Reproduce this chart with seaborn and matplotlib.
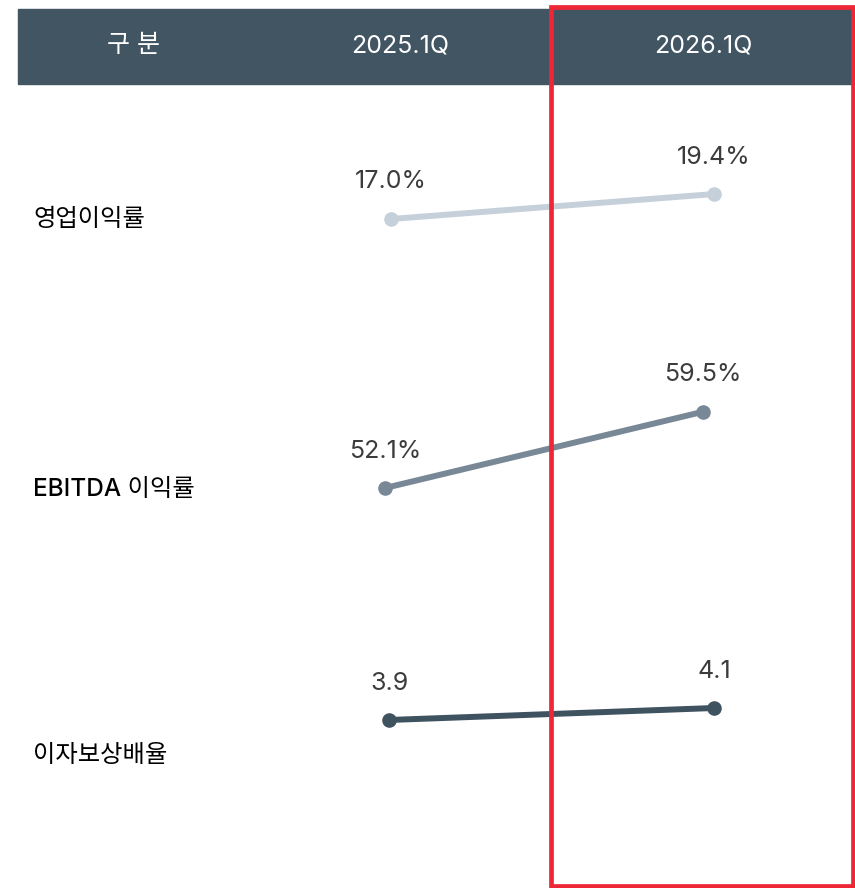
import seaborn as sns
import matplotlib.pyplot as plt
import pandas as pd
from matplotlib.patches import Rectangle

sns.set_theme(style="white")
plt.rcParams["font.family"] = ["Inter", "Noto Sans CJK KR", "DejaVu Sans"]

# data
periods = ["2025.1Q", "2026.1Q"]
metrics = ["영업이익률", "EBITDA 이익률", "이자보상배율"]
op_margin = [17.0, 19.4]
ebitda_margin = [52.1, 59.5]
interest_cover = [3.9, 4.1]
value_labels = [["17.0%", "19.4%"], ["52.1%", "59.5%"], ["3.9", "4.1"]]
header_first = "구 분"

W, H = 855, 888
fig = plt.figure(figsize=(W / 100, H / 100), dpi=100)


def fx(px):
    return px / W


def fy(py):
    return 1 - py / H


# header bar
fig.patches.append(Rectangle((fx(18), fy(84)), fx(855) - fx(18), fy(9) - fy(84),
                             transform=fig.transFigure, color="#425563", zorder=1))
fig.text(fx(133), fy(46), header_first, color="white", fontsize=18, ha="center", va="center")
fig.text(fx(400), fy(46), periods[0], color="white", fontsize=18, ha="center", va="center")
fig.text(fx(703), fy(46), periods[1], color="white", fontsize=18, ha="center", va="center")

series = [op_margin, ebitda_margin, interest_cover]
colors = ["#c5d0da", "#788896", "#3f5260"]
# per row: band top/bottom px, x px of first/second point, y px of first value, px per unit
rows = [
    (100, 340, 391, 714, 219, 10.4),
    (360, 600, 385, 703, 488, 10.3),
    (620, 860, 389, 714, 720, 60.0),
]
label_y = [219, 489, 755]

for i, (vals, color, row) in enumerate(zip(series, colors, rows)):
    top, bot, x0p, x1p, y0p, s = row
    ax = fig.add_axes([0, fy(bot), 1, (bot - top) / H])
    ax.set_axis_off()
    ax.patch.set_alpha(0)
    df = pd.DataFrame({"pos": [0, 1], "value": vals})
    sns.lineplot(data=df, x="pos", y="value", ax=ax, color=color, linewidth=4.3,
                 marker="o", markersize=10.5, markeredgewidth=0, solid_capstyle="round")
    unit = 1 / (x1p - x0p)
    ax.set_xlim(-x0p * unit, (W - x0p) * unit)
    ax.set_ylim(vals[0] - (bot - y0p) / s, vals[0] + (y0p - top) / s)
    for xv, yv, lab in zip(df["pos"], df["value"], value_labels[i]):
        ax.annotate(lab, (xv, yv), xytext=(0, 37), textcoords="offset pixels",
                    ha="center", va="center", fontsize=18, color="#3c3c3c")
    fig.text(fx(33), fy(label_y[i]), metrics[i], fontsize=17.5, color="black",
             fontweight="medium", ha="left", va="center")

# highlight box for 2026.1Q
fig.patches.append(Rectangle((fx(551), fy(886)), fx(853) - fx(551), fy(7) - fy(886),
                             transform=fig.transFigure, fill=False, edgecolor="#ee2737",
                             linewidth=3.4, zorder=10))

plt.savefig("out.png", dpi=100)
